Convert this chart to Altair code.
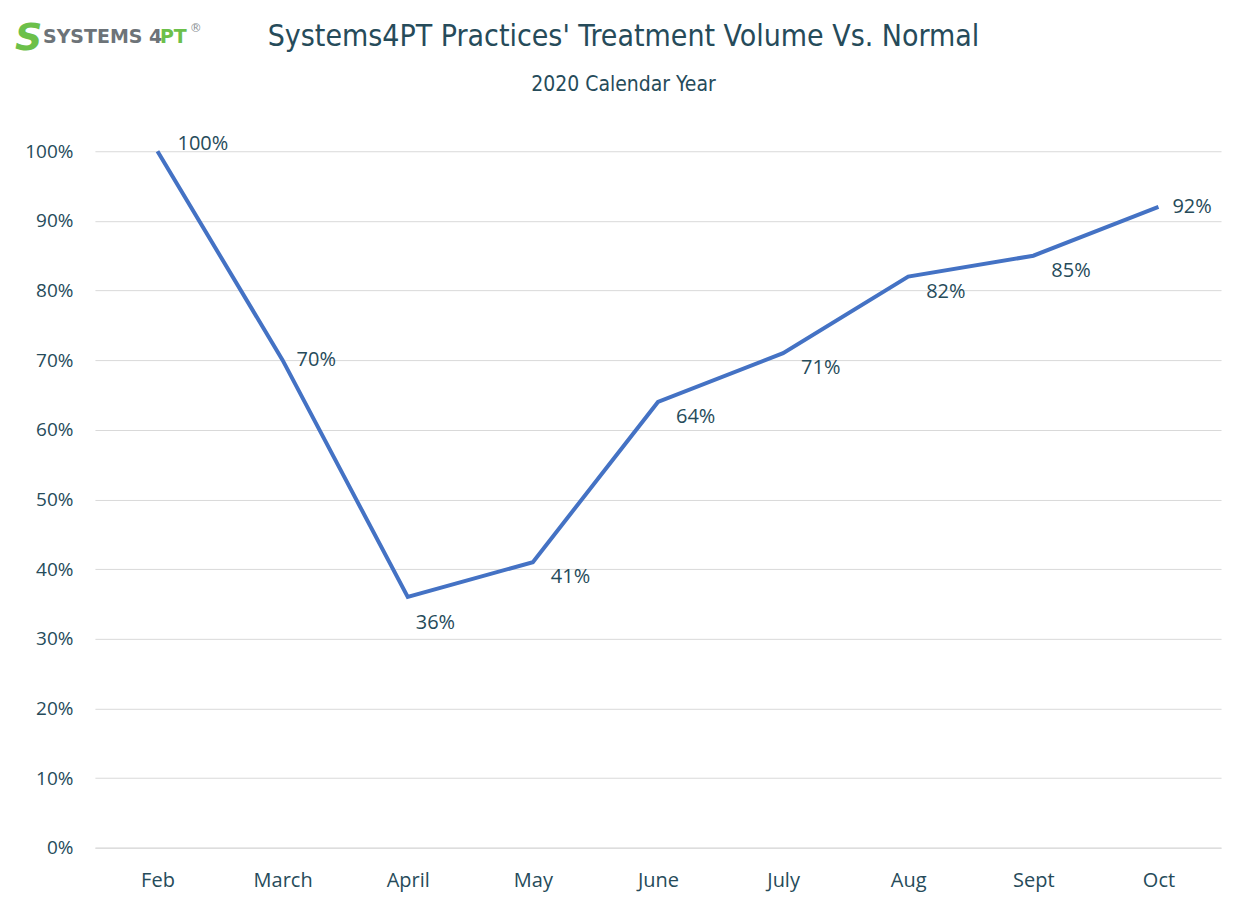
import altair as alt
import pandas as pd

months = ["Feb", "March", "April", "May", "June", "July", "Aug", "Sept", "Oct"]
values = [1.00, 0.70, 0.36, 0.41, 0.64, 0.71, 0.82, 0.85, 0.92]
label_text = ["100%", "70%", "36%", "41%", "64%", "71%", "82%", "85%", "92%"]
label_side = ["up", "right", "below", "belowright", "belowright", "belowright", "belowright", "belowright", "right"]

title_text = "Systems4PT Practices' Treatment Volume Vs. Normal"
subtitle_text = "2020 Calendar Year"

df = pd.DataFrame({"month": months, "value": values, "label": label_text, "side": label_side})

TEXT = "#264b5a"
TITLE_FONT = "DejaVu Sans Condensed, Roboto, sans-serif"
W, H = 1127, 697

x = alt.X("month:N", sort=months, title=None,
          scale=alt.Scale(type="point", padding=0.5),
          axis=alt.Axis(labelAngle=0, labelFontSize=20, labelColor=TEXT, labelFont="Open Sans",
                        labelPadding=23, ticks=False, domain=True, domainColor="#d9d9d9",
                        grid=False))
y = alt.Y("value:Q", title=None,
          scale=alt.Scale(domain=[0, 1]),
          axis=alt.Axis(format=".0%", values=[i / 10 for i in range(11)], labelFontSize=19,
                        labelColor=TEXT, labelFont="Open Sans", labelPadding=22, ticks=False,
                        domain=False, gridColor="#d9d9d9", gridWidth=1))

base = alt.Chart(df)

line = base.mark_line(color="#4472C4", strokeWidth=4).encode(x=x, y=y)

def labels(side, dx, dy, align="left"):
    return base.transform_filter(alt.datum.side == side).mark_text(
        align=align, baseline="middle", dx=dx, dy=dy, fontSize=20, font="Open Sans", color=TEXT
    ).encode(x=x, y=y, text="label:N")

lab_up = labels("up", 20, -7)
lab_right = labels("right", 14, 0)
lab_below = labels("below", 8, 26)
lab_br = labels("belowright", 18, 15)

one = pd.DataFrame({"t": ["x"]})

def deco(text, px, py, **kw):
    return alt.Chart(one).mark_text(text=text, baseline="middle", **kw).encode(
        x=alt.value(px), y=alt.value(py))

title = deco(title_text, 529, -114, align="center", font=TITLE_FONT, fontSize=30, color=TEXT)
subtitle = deco(subtitle_text, 529, -66, align="center", font=TITLE_FONT, fontSize=21, color=TEXT)

logo_s = deco("S", -80, -112, align="left", font="DejaVu Sans", fontWeight="bold", fontSize=38,
              color="#6cc04a", fontStyle="italic")
logo_sys = deco("SYSTEMS 4", -52, -114, align="left", font="DejaVu Sans", fontWeight="bold",
                fontSize=19, color="#6d7378")
logo_pt = deco("PT", 65, -114, align="left", font="DejaVu Sans", fontWeight="bold",
               fontSize=19, color="#6cc04a")
logo_r = deco("®", 95, -123, align="left", font="DejaVu Sans", fontSize=12, color="#8a8f93")

chart = alt.layer(line, lab_up, lab_right, lab_below, lab_br,
                  title, subtitle, logo_s, logo_sys, logo_pt, logo_r).properties(
    width=W, height=H,
    background="white",
    autosize=alt.AutoSizeParams(type="none"),
    padding={"left": 87, "top": 143, "right": 20, "bottom": 60},
).configure_view(strokeWidth=0, stroke=None)

chart.save("out.html", embed_options={"renderer": "svg", "actions": False})
